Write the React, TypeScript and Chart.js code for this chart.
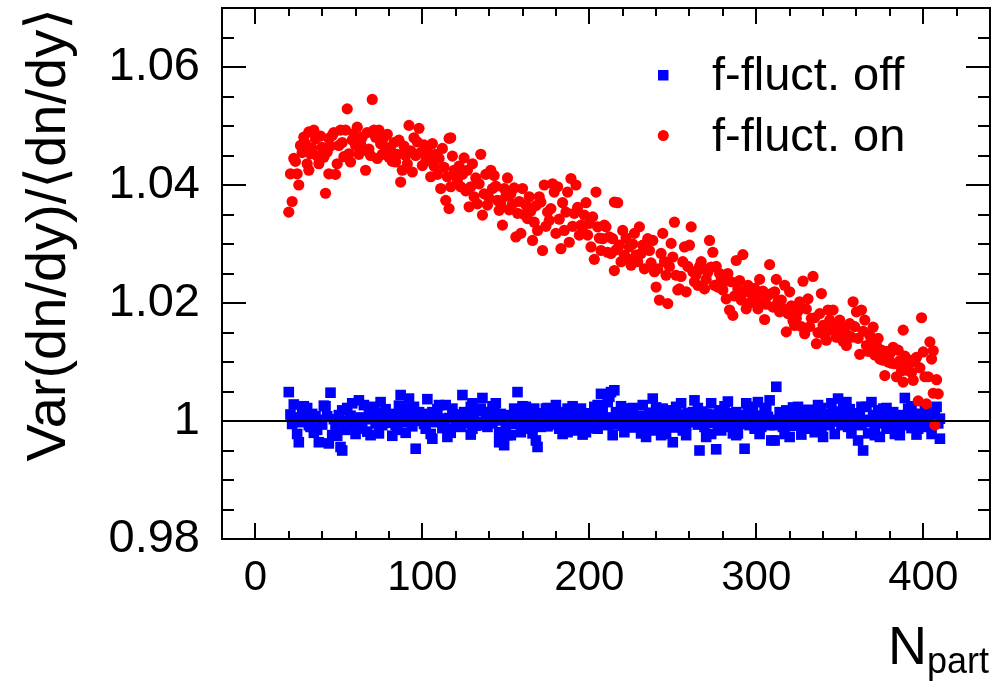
import React, { useEffect, useRef } from 'react';
import { Chart, registerables } from 'chart.js';

Chart.register(...registerables);

const FONT = '"Liberation Sans", Arial, Helvetica, "DejaVu Sans", sans-serif';

// Axis ranges and ticks
const xRange = [-20, 440];
const yRange = [0.98, 1.07];
const xMajorTicks = [0, 100, 200, 300, 400];
const yMajorTicks = [0.98, 1.0, 1.02, 1.04, 1.06];
const xMinorStep = 20;
const yMinorStep = 0.005;

const seriesLabels = ['f-fluct. off', 'f-fluct. on'];
const xTitle = ['N', 'part'];
const yTitle = 'Var(dn/dy)/⟨dn/dy⟩';
const referenceLevel = 1;

// f-fluct. on : [Npart, Var/mean]
const fluctOn: [number, number][] = [
  [20, 1.0354], [21, 1.0419], [22, 1.0372], [23, 1.0445], [24, 1.044], [25, 1.0419], [26, 1.04], [27, 1.0467],
  [28, 1.0455], [29, 1.0481], [30, 1.047], [31, 1.0436], [32, 1.049], [32, 1.0425], [33, 1.0453], [34, 1.0462],
  [35, 1.0493], [36, 1.0478], [37, 1.0449], [38, 1.0436], [39, 1.0483], [40, 1.0464], [41, 1.0447], [42, 1.0386],
  [43, 1.0456], [44, 1.0419], [44, 1.0479], [45, 1.0466], [46, 1.0484], [47, 1.0489], [48, 1.0418], [49, 1.0436],
  [50, 1.0467], [51, 1.0493], [52, 1.0472], [53, 1.0448], [54, 1.0493], [55, 1.0529], [56, 1.0453], [57, 1.0439],
  [58, 1.0476], [59, 1.0487], [60, 1.0467], [61, 1.0498], [62, 1.0452], [63, 1.047], [64, 1.0481], [65, 1.0459],
  [66, 1.0425], [67, 1.0489], [68, 1.0461], [69, 1.045], [70, 1.0545], [71, 1.0493], [72, 1.0481], [73, 1.0445],
  [74, 1.0493], [75, 1.047], [76, 1.0452], [77, 1.0481], [78, 1.0464], [79, 1.0486], [80, 1.0447], [81, 1.0459],
  [82, 1.044], [83, 1.0472], [84, 1.0439], [85, 1.0452], [86, 1.0476], [87, 1.0405], [88, 1.0425], [89, 1.0466],
  [90, 1.045], [91, 1.0436], [92, 1.0501], [93, 1.0458], [94, 1.0422], [95, 1.048], [96, 1.045], [97, 1.0473],
  [98, 1.0496], [99, 1.0455], [100, 1.0433], [101, 1.0468], [102, 1.044], [103, 1.0458], [104, 1.0445], [105, 1.0414],
  [106, 1.047], [107, 1.0432], [108, 1.0452], [109, 1.0418], [110, 1.0445], [111, 1.0394], [112, 1.0462], [113, 1.043],
  [114, 1.0374], [115, 1.0414], [116, 1.0479], [116, 1.036], [117, 1.048], [117, 1.0397], [118, 1.0449], [119, 1.0425],
  [120, 1.0416], [121, 1.0405], [122, 1.0432], [123, 1.0397], [124, 1.0418], [125, 1.0446], [126, 1.039], [127, 1.0425],
  [128, 1.0363], [129, 1.0397], [130, 1.0436], [131, 1.038], [132, 1.0412], [133, 1.0368], [134, 1.0402], [135, 1.0452],
  [136, 1.0349], [137, 1.0385], [138, 1.0418], [139, 1.0366], [140, 1.0378], [141, 1.0425], [142, 1.0394], [143, 1.0416],
  [144, 1.0398], [145, 1.0374], [146, 1.0357], [147, 1.0368], [148, 1.0332], [149, 1.0394], [150, 1.0381], [151, 1.0412],
  [152, 1.0358], [153, 1.0385], [154, 1.0368], [155, 1.0395], [156, 1.0312], [157, 1.0352], [158, 1.0372], [159, 1.0318],
  [160, 1.0394], [161, 1.035], [162, 1.0366], [163, 1.0343], [164, 1.038], [165, 1.0356], [166, 1.0306], [167, 1.0337],
  [168, 1.0365], [169, 1.0323], [170, 1.038], [171, 1.0371], [172, 1.0289], [173, 1.04], [174, 1.033], [175, 1.0354],
  [176, 1.034], [177, 1.036], [178, 1.0402], [179, 1.0388], [180, 1.0318], [181, 1.0397], [182, 1.0342], [183, 1.0292],
  [184, 1.037], [185, 1.0323], [186, 1.0354], [187, 1.0388], [188, 1.0303], [189, 1.0411], [190, 1.033], [191, 1.0352],
  [192, 1.04], [193, 1.0362], [194, 1.0315], [195, 1.0332], [196, 1.0322], [197, 1.0349], [198, 1.037], [199, 1.0315],
  [200, 1.0335], [201, 1.0295], [202, 1.0346], [203, 1.0274], [204, 1.0388], [205, 1.0329], [206, 1.031], [207, 1.0289],
  [208, 1.0309], [209, 1.0332], [210, 1.0329], [211, 1.0286], [212, 1.0312], [213, 1.0284], [214, 1.0309], [215, 1.0371],
  [215, 1.0255], [216, 1.029], [217, 1.037], [218, 1.0298], [219, 1.027], [220, 1.0323], [221, 1.0281], [222, 1.031],
  [223, 1.0275], [224, 1.0295], [225, 1.0264], [226, 1.03], [227, 1.0318], [228, 1.0281], [229, 1.027], [230, 1.0329],
  [231, 1.0284], [232, 1.0298], [233, 1.0258], [234, 1.0292], [235, 1.0309], [236, 1.0289], [237, 1.0268], [238, 1.0306],
  [239, 1.0253], [240, 1.0227], [241, 1.0258], [242, 1.0205], [243, 1.0284], [244, 1.0318], [245, 1.027], [246, 1.0247],
  [247, 1.0199], [248, 1.0262], [249, 1.0301], [250, 1.0278], [251, 1.0337], [252, 1.0247], [253, 1.0222], [254, 1.0224],
  [255, 1.0245], [256, 1.027], [257, 1.0295], [258, 1.0219], [259, 1.0262], [260, 1.0298], [261, 1.0329], [262, 1.0253],
  [263, 1.0236], [264, 1.0248], [265, 1.023], [266, 1.0262], [267, 1.027], [268, 1.0258], [269, 1.0224], [270, 1.024],
  [271, 1.0252], [272, 1.0306], [273, 1.0261], [274, 1.0286], [275, 1.023], [276, 1.0262], [277, 1.0227], [278, 1.025],
  [279, 1.024], [280, 1.0222], [281, 1.0236], [282, 1.0207], [283, 1.025], [284, 1.0188], [285, 1.0236], [286, 1.0179],
  [287, 1.0212], [288, 1.0272], [289, 1.0224], [290, 1.0238], [291, 1.0205], [292, 1.0282], [293, 1.0219], [294, 1.019],
  [295, 1.023], [296, 1.02], [297, 1.0216], [298, 1.0202], [299, 1.0225], [300, 1.021], [301, 1.019], [302, 1.024],
  [303, 1.0202], [304, 1.022], [305, 1.0172], [306, 1.0198], [307, 1.0213], [308, 1.0265], [309, 1.0216], [310, 1.0193],
  [311, 1.0219], [312, 1.024], [313, 1.0202], [314, 1.0185], [315, 1.0205], [316, 1.019], [317, 1.023], [318, 1.0151],
  [319, 1.0182], [320, 1.0219], [321, 1.0195], [322, 1.017], [323, 1.0162], [324, 1.0174], [325, 1.0186], [326, 1.0202],
  [327, 1.016], [328, 1.0237], [329, 1.0148], [330, 1.019], [331, 1.0207], [332, 1.016], [333, 1.0174], [334, 1.0245],
  [335, 1.0175], [336, 1.0131], [337, 1.015], [338, 1.0182], [339, 1.0216], [340, 1.0162], [341, 1.0145], [342, 1.0137],
  [343, 1.0188], [344, 1.0171], [345, 1.0154], [346, 1.0188], [347, 1.016], [348, 1.0142], [349, 1.0154], [350, 1.0171],
  [351, 1.0148], [352, 1.0135], [353, 1.0158], [354, 1.0128], [355, 1.0145], [356, 1.0165], [357, 1.0142], [358, 1.0202],
  [359, 1.016], [360, 1.0185], [361, 1.014], [362, 1.0113], [363, 1.0188], [364, 1.0152], [365, 1.0171], [366, 1.0128],
  [367, 1.0118], [368, 1.0145], [369, 1.0135], [370, 1.0159], [371, 1.0112], [372, 1.0128], [373, 1.014], [374, 1.0105],
  [375, 1.012], [376, 1.0103], [377, 1.0077], [378, 1.0118], [379, 1.01], [380, 1.0114], [381, 1.0098], [382, 1.0125],
  [383, 1.0097], [384, 1.0075], [385, 1.012], [386, 1.0102], [387, 1.0085], [388, 1.0154], [388, 1.0066], [389, 1.011],
  [390, 1.0086], [391, 1.0095], [392, 1.0103], [393, 1.0082], [394, 1.0069], [395, 1.01], [396, 1.0108], [397, 1.0034],
  [398, 1.009], [399, 1.0175], [400, 1.0117], [401, 1.0075], [402, 1.0029], [403, 1.0075], [404, 1.0134], [405, 1.0105],
  [406, 1.0119], [406, 1.0047], [407, 0.9993], [408, 1.007], [409, 1.0046],
];

// f-fluct. off : [Npart, Var/mean]
const fluctOff: [number, number][] = [
  [20, 1.0049], [21, 1.0011], [22, 0.9995], [23, 1.0028], [24, 1.0006], [25, 0.9978], [26, 0.9964], [27, 0.9998],
  [28, 1.002], [29, 1.0025], [30, 1.0004], [31, 1.0022], [32, 0.9993], [33, 0.999], [34, 1.0012], [35, 0.998],
  [36, 1.0008], [37, 0.9985], [38, 0.9964], [39, 1.0002], [40, 0.9994], [41, 1.0026], [42, 1.0025], [43, 1.0008],
  [44, 0.9962], [45, 1.0048], [46, 0.9976], [47, 1.0003], [48, 0.999], [49, 0.9975], [50, 1.001], [51, 0.9956],
  [52, 0.995], [52, 1.0018], [53, 1.0], [54, 0.9985], [55, 1.0022], [56, 0.9994], [57, 1.0009], [58, 1.003],
  [59, 0.9999], [60, 0.9978], [61, 0.9987], [62, 1.0035], [63, 1.0006], [64, 0.9992], [65, 1.0027], [66, 1.0003],
  [67, 0.9982], [68, 1.0015], [69, 0.9976], [70, 1.0008], [71, 1.0024], [72, 0.9996], [73, 1.0014], [74, 0.9979],
  [75, 1.0032], [76, 0.9993], [77, 1.0005], [78, 1.002], [79, 0.9997], [80, 1.0003], [81, 1.0012], [82, 0.9975],
  [83, 1.001], [84, 0.9993], [85, 0.9985], [86, 1.0026], [87, 1.0044], [88, 1.0008], [89, 0.9998], [90, 0.998],
  [91, 1.0021], [92, 1.0038], [93, 1.0005], [94, 0.9991], [95, 1.0024], [96, 0.9953], [97, 1.0007], [98, 1.0015],
  [99, 1.0], [100, 1.0012], [101, 0.9995], [102, 0.9987], [103, 1.0037], [104, 1.0006], [105, 0.9978], [106, 1.0015],
  [106, 0.997], [107, 0.9998], [108, 1.001], [109, 1.002], [110, 1.0027], [111, 1.0004], [112, 0.9988], [113, 0.9993],
  [114, 1.0027], [115, 0.9987], [115, 0.9973], [116, 1.0005], [117, 0.998], [118, 1.0021], [119, 1.0011], [120, 0.9998],
  [121, 0.9993], [122, 1.0007], [123, 0.999], [124, 1.0044], [125, 1.0015], [126, 1.0003], [127, 0.9996], [128, 1.0012],
  [129, 1.0024], [129, 0.9977], [130, 1.003], [130, 0.9987], [131, 1.0006], [132, 0.9992], [133, 1.0017], [134, 0.9998],
  [135, 1.0021], [136, 1.0039], [137, 0.9993], [138, 1.0007], [139, 0.999], [140, 1.0015], [141, 1.0003], [142, 0.9996],
  [142, 1.0025], [143, 1.0019], [144, 1.003], [145, 1.0006], [146, 0.9981], [146, 0.9964], [147, 1.0012], [148, 1.0001],
  [149, 0.9959], [150, 0.9993], [151, 1.001], [151, 0.9976], [152, 1.0004], [153, 0.9976], [154, 0.9995], [155, 1.0021],
  [156, 1.0008], [157, 1.0049], [158, 1.0014], [159, 0.9981], [160, 0.9997], [160, 1.0025], [161, 1.0006], [162, 1.0024],
  [163, 0.9987], [164, 1.001], [165, 0.9994], [166, 1.0004], [166, 0.9979], [167, 1.0021], [168, 0.9967], [169, 0.9956],
  [170, 1.0013], [171, 0.999], [172, 0.9998], [173, 1.0007], [174, 1.0021], [175, 0.9991], [175, 1.0022], [176, 1.001],
  [177, 0.9996], [178, 1.0003], [179, 0.9994], [180, 1.0027], [181, 1.0015], [182, 0.9987], [183, 1.0005], [184, 0.9989],
  [184, 0.9978], [185, 1.0009], [186, 0.9998], [187, 1.0021], [187, 0.9981], [188, 1.0012], [189, 0.9993], [190, 1.0006],
  [190, 1.0025], [191, 1.0016], [192, 0.9984], [193, 1.0], [194, 0.999], [195, 1.0021], [196, 1.0009], [196, 0.9977],
  [197, 1.0002], [198, 0.9981], [199, 0.9994], [200, 1.0013], [201, 1.0004], [202, 0.9988], [203, 1.001], [203, 1.0024],
  [204, 0.9999], [205, 1.0027], [205, 0.9987], [206, 1.0008], [207, 1.0046], [208, 1.0017], [209, 0.9996], [210, 1.0006],
  [211, 1.0032], [211, 0.9993], [212, 1.0041], [213, 1.0049], [214, 1.0003], [214, 0.9976], [215, 1.0052], [216, 1.0015],
  [217, 0.9994], [218, 1.001], [219, 1.0001], [219, 1.0025], [220, 0.9992], [221, 0.9981], [222, 1.0007], [223, 0.9997],
  [224, 1.0021], [225, 1.0012], [226, 0.9989], [226, 1.0022], [227, 1.0004], [228, 0.9999], [229, 0.9993], [230, 1.0009],
  [231, 0.9994], [231, 0.9979], [232, 1.0027], [233, 1.0005], [234, 0.9973], [235, 0.9999], [236, 1.0014], [237, 0.9984],
  [238, 1.0038], [239, 1.0003], [240, 0.9991], [240, 1.0023], [241, 1.001], [242, 0.9998], [243, 0.9976], [244, 1.0021],
  [245, 1.0007], [246, 0.999], [246, 0.9978], [247, 1.0002], [248, 1.0012], [249, 0.9996], [250, 1.0018], [250, 0.9964],
  [251, 1.0005], [252, 0.9989], [252, 1.0024], [253, 1.0011], [254, 1.0], [255, 1.003], [256, 0.9984], [257, 1.0006],
  [258, 0.9992], [258, 0.9976], [259, 1.0013], [260, 0.9998], [261, 1.0004], [262, 1.0015], [263, 1.0035], [264, 1.0009],
  [265, 0.9994], [265, 1.0022], [266, 0.995], [267, 1.0002], [268, 1.0016], [269, 0.999], [270, 1.0012], [270, 0.9973],
  [271, 1.0007], [272, 0.9997], [273, 1.003], [273, 0.9978], [274, 1.0011], [275, 1.0002], [276, 0.9952], [277, 0.9993],
  [278, 1.0018], [279, 0.9984], [280, 1.0008], [281, 0.9999], [281, 1.0025], [282, 1.0013], [283, 1.0033], [284, 1.0004],
  [285, 0.999], [286, 0.9979], [287, 1.0], [288, 1.0015], [288, 0.9976], [289, 0.9979], [290, 1.001], [291, 0.9995],
  [292, 1.0005], [293, 0.9953], [294, 1.003], [295, 1.0014], [296, 0.9993], [297, 1.0003], [297, 1.0024], [298, 1.002],
  [299, 0.9987], [300, 0.9998], [301, 1.0032], [302, 1.0009], [302, 0.9978], [303, 0.999], [304, 1.0004], [305, 1.0017],
  [306, 0.9995], [306, 1.0022], [307, 1.0007], [308, 1.0035], [308, 0.9993], [309, 0.9967], [310, 1.0002], [311, 0.9967],
  [311, 0.9993], [312, 1.0058], [313, 0.9996], [314, 1.0015], [315, 1.001], [316, 0.999], [317, 1.0005], [317, 0.9978],
  [318, 1.0018], [319, 0.9997], [320, 0.9973], [321, 0.9993], [322, 1.0008], [322, 1.0023], [323, 0.9992], [324, 1.0003],
  [325, 1.0024], [326, 1.0014], [327, 0.9996], [327, 0.9977], [328, 1.0006], [329, 0.9987], [330, 1.0001], [331, 1.0019],
  [332, 0.999], [333, 1.0015], [334, 1.0009], [335, 0.9981], [336, 0.9998], [337, 1.0027], [338, 1.0005], [339, 0.9987],
  [339, 1.0022], [340, 0.9973], [341, 1.0012], [342, 1.0002], [343, 0.9993], [344, 0.9994], [345, 1.003], [346, 1.0016],
  [347, 0.9999], [347, 0.9978], [348, 1.0006], [349, 1.0038], [350, 1.0011], [351, 0.9993], [352, 0.9997], [352, 1.0024],
  [353, 1.0003], [354, 1.0032], [355, 0.999], [356, 1.0008], [356, 1.002], [357, 0.9979], [358, 0.9996], [359, 1.0012],
  [360, 1.0004], [361, 0.9967], [362, 1.0013], [363, 0.9993], [363, 1.0024], [364, 0.995], [365, 1.0002], [366, 1.0024],
  [367, 0.9979], [368, 0.9998], [369, 1.0032], [370, 1.001], [371, 0.999], [371, 0.9976], [372, 1.0005], [373, 1.0018],
  [374, 0.9973], [375, 0.9996], [376, 1.0021], [377, 1.0007], [378, 0.9987], [378, 1.0022], [379, 1.0002], [380, 0.9995],
  [381, 1.0009], [382, 1.0015], [383, 0.9998], [383, 0.9978], [384, 1.0006], [385, 0.999], [386, 0.9976], [387, 1.001],
  [388, 0.9993], [389, 1.0039], [390, 0.9997], [391, 1.0021], [392, 1.0004], [393, 0.9988], [393, 1.0025], [394, 1.0012],
  [395, 0.9995], [396, 0.9977], [397, 1.0012], [397, 0.9987], [398, 1.0002], [399, 0.999], [400, 1.0008], [401, 0.9996],
  [401, 1.0022], [402, 1.0015], [403, 0.9993], [404, 0.9992], [405, 1.0004], [405, 0.9978], [406, 0.9998], [407, 1.001],
  [408, 1.0024], [409, 0.9996], [410, 0.997], [410, 1.0004],
];

const toPoints = (arr: [number, number][]) => arr.map(([x, y]) => ({ x, y }));

const decorPlugin = {
  id: 'rootDecor',
  afterDatasetsDraw(chart: any) {
    const { ctx, chartArea } = chart;
    const { left, right, top, bottom } = chartArea;
    const xs = chart.scales.x;
    const ys = chart.scales.y;
    ctx.save();
    ctx.strokeStyle = '#000';
    ctx.lineWidth = 2;
    const nx = Math.round((xRange[1] - xRange[0]) / xMinorStep);
    for (let i = 1; i < nx; i++) {
      const v = xRange[0] + i * xMinorStep;
      const px = Math.round(xs.getPixelForValue(v));
      const major = xMajorTicks.includes(v);
      const len = major ? 16 : 8;
      ctx.beginPath();
      ctx.moveTo(px, bottom);
      ctx.lineTo(px, bottom - len);
      ctx.moveTo(px, top);
      ctx.lineTo(px, top + len);
      ctx.stroke();
    }
    const ny = Math.round((yRange[1] - yRange[0]) / yMinorStep);
    for (let i = 1; i < ny; i++) {
      const v = yRange[0] + i * yMinorStep;
      const py = Math.round(ys.getPixelForValue(v));
      const major = yMajorTicks.some((t) => Math.abs(t - v) < 1e-6);
      const len = major ? 24 : 12;
      ctx.beginPath();
      ctx.moveTo(left, py);
      ctx.lineTo(left + len, py);
      ctx.moveTo(right, py);
      ctx.lineTo(right - len, py);
      ctx.stroke();
    }
    ctx.strokeRect(left, top, right - left, bottom - top);
    ctx.restore();
  },
  afterDraw(chart: any) {
    const { ctx, chartArea } = chart;
    ctx.save();
    // legend
    ctx.fillStyle = '#0000ff';
    ctx.fillRect(658, 70, 10.5, 10.5);
    ctx.fillStyle = '#ff0000';
    ctx.beginPath();
    ctx.arc(663.3, 135.5, 5.5, 0, Math.PI * 2);
    ctx.fill();
    ctx.fillStyle = '#000';
    ctx.font = `47px ${FONT}`;
    ctx.textBaseline = 'alphabetic';
    ctx.textAlign = 'left';
    ctx.fillText(seriesLabels[0], 712, 90);
    ctx.fillText(seriesLabels[1], 712, 151);
    // x title N_part, right aligned at the frame edge
    ctx.font = `36px ${FONT}`;
    const subW = ctx.measureText(xTitle[1]).width;
    const subX = chartArea.right - subW - 1;
    ctx.fillText(xTitle[1], subX, 673);
    ctx.font = `54px ${FONT}`;
    const nW = ctx.measureText(xTitle[0]).width;
    ctx.fillText(xTitle[0], subX - nW, 664);
    ctx.restore();
  },
};

export default function App() {
  const canvasRef = useRef<HTMLCanvasElement | null>(null);

  useEffect(() => {
    document.body.style.margin = '0';
    const canvas = canvasRef.current;
    if (!canvas) return;
    Chart.defaults.font.family = FONT;
    Chart.defaults.color = '#000';

    const chart = new Chart(canvas, {
      type: 'scatter',
      data: {
        datasets: [
          {
            type: 'line',
            label: 'ref',
            data: [
              { x: xRange[0], y: referenceLevel },
              { x: xRange[1], y: referenceLevel },
            ],
            borderColor: '#000',
            borderWidth: 2,
            pointRadius: 0,
            fill: false,
            order: 0,
          } as any,
          {
            label: seriesLabels[1],
            data: toPoints(fluctOn),
            pointStyle: 'circle',
            pointRadius: 5.6,
            pointBorderWidth: 0,
            backgroundColor: '#ff0000',
            borderColor: '#ff0000',
            order: 1,
          },
          {
            label: seriesLabels[0],
            data: toPoints(fluctOff),
            pointStyle: 'rect',
            pointRadius: 7.5,
            pointBorderWidth: 0,
            backgroundColor: '#0000ff',
            borderColor: '#0000ff',
            order: 2,
          },
        ],
      },
      options: {
        responsive: false,
        animation: false,
        devicePixelRatio: 1,
        layout: { padding: { left: 0, top: 8, right: 11, bottom: 0 } },
        plugins: {
          legend: { display: false },
          tooltip: { enabled: false },
        },
        events: [],
        scales: {
          x: {
            type: 'linear',
            position: 'bottom',
            min: xRange[0],
            max: xRange[1],
            grid: { display: false, drawTicks: false },
            border: { display: false },
            ticks: {
              font: { size: 42, family: FONT },
              color: '#000',
              padding: 14,
              autoSkip: false,
              maxRotation: 0,
              callback: (v: any) => String(v),
            },
            afterBuildTicks: (s: any) => {
              s.ticks = xMajorTicks.map((value) => ({ value }));
            },
            afterFit: (s: any) => {
              s.height = 147;
              s.paddingLeft = 0;
              s.paddingRight = 0;
            },
          },
          y: {
            type: 'linear',
            position: 'left',
            min: yRange[0],
            max: yRange[1],
            grid: { display: false, drawTicks: false },
            border: { display: false },
            ticks: {
              font: { size: 47, family: FONT },
              color: '#000',
              padding: 22,
              autoSkip: false,
              callback: (v: any) => {
                const s = Number(v).toFixed(2);
                return s === '1.00' ? '1' : s;
              },
            },
            afterBuildTicks: (s: any) => {
              s.ticks = yMajorTicks.map((value) => ({ value }));
            },
            afterFit: (s: any) => {
              s.width = 222;
              s.paddingTop = 0;
              s.paddingBottom = 0;
            },
            title: {
              display: true,
              text: yTitle,
              align: 'end',
              color: '#000',
              font: { size: 56, family: FONT },
              padding: { top: 16, bottom: 0 },
            },
          },
        },
      },
      plugins: [decorPlugin],
    });

    return () => {
      chart.destroy();
    };
  }, []);

  return (
    <div style={{ width: 1001, height: 686 }}>
      <canvas ref={canvasRef} width={1001} height={686} style={{ display: 'block' }} />
    </div>
  );
}
